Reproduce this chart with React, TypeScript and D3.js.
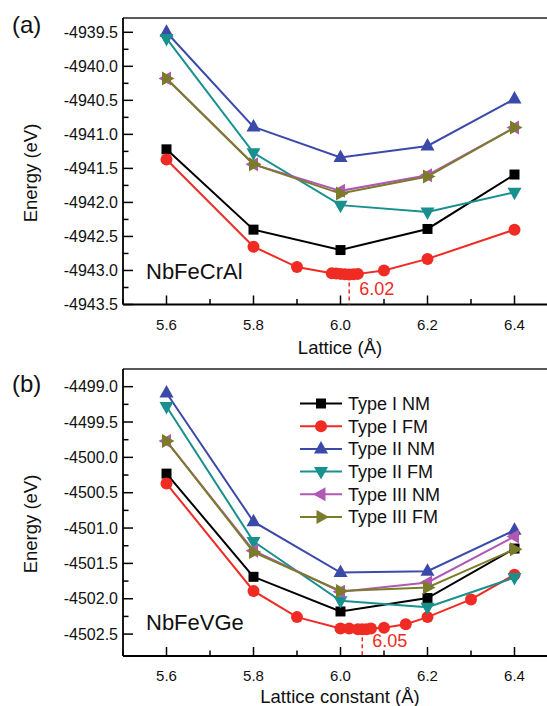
import React from 'react';
import * as d3 from 'd3';

// ---------- data ----------
const lattice = [5.6, 5.8, 6.0, 6.2, 6.4];

// Panel (a) NbFeCrAl
const aTypeINM = [-4941.22, -4942.4, -4942.7, -4942.39, -4941.59];
const aTypeIFMx = [5.6, 5.8, 5.9, 5.98, 5.99, 6.0, 6.01, 6.02, 6.03, 6.04, 6.1, 6.2, 6.4];
const aTypeIFM = [-4941.37, -4942.65, -4942.95, -4943.04, -4943.045, -4943.05, -4943.055, -4943.06, -4943.055, -4943.05, -4943.0, -4942.83, -4942.4];
const aTypeIINM = [-4939.5, -4940.89, -4941.34, -4941.17, -4940.48];
const aTypeIIFM = [-4939.59, -4941.27, -4942.04, -4942.14, -4941.85];
const aTypeIIINM = [-4940.18, -4941.44, -4941.83, -4941.6, -4940.9];
const aTypeIIIFM = [-4940.18, -4941.44, -4941.87, -4941.62, -4940.9];
const aOptimum = 6.02;

// Panel (b) NbFeVGe
const bTypeINM = [-4500.23, -4501.69, -4502.18, -4501.99, -4501.29];
const bTypeIFMx = [5.6, 5.8, 5.9, 6.0, 6.02, 6.04, 6.05, 6.06, 6.07, 6.1, 6.15, 6.2, 6.3, 6.4];
const bTypeIFM = [-4500.37, -4501.89, -4502.26, -4502.42, -4502.42, -4502.43, -4502.43, -4502.43, -4502.42, -4502.41, -4502.36, -4502.26, -4502.01, -4501.66];
const bTypeIINM = [-4499.09, -4500.91, -4501.63, -4501.61, -4501.03];
const bTypeIIFM = [-4499.28, -4501.19, -4502.03, -4502.12, -4501.7];
const bTypeIIINM = [-4499.77, -4501.32, -4501.9, -4501.77, -4501.12];
const bTypeIIIFM = [-4499.77, -4501.34, -4501.89, -4501.84, -4501.3];
const bOptimum = 6.05;

const seriesNames = ['Type I NM', 'Type I FM', 'Type II NM', 'Type II FM', 'Type III NM', 'Type III FM'];
const seriesColors = ['#000000', '#ef2b24', '#3b4aa9', '#17908e', '#b058b2', '#7b7c2a'];
const seriesMarkers = ['square', 'circle', 'up', 'down', 'left', 'right'];

const xMajorTicks = [5.6, 5.8, 6.0, 6.2, 6.4];
const xMinorTicks = [5.5, 5.7, 5.9, 6.1, 6.3, 6.5];
const aYTicks = [-4943.5, -4943.0, -4942.5, -4942.0, -4941.5, -4941.0, -4940.5, -4940.0, -4939.5];
const bYTicks = [-4502.5, -4502.0, -4501.5, -4501.0, -4500.5, -4500.0, -4499.5, -4499.0];

const FONT = '"Liberation Sans", Arial, Helvetica, sans-serif';

function Marker({ kind, x, y, color }: { kind: string; x: number; y: number; color: string }) {
  if (kind === 'circle') return <circle cx={x} cy={y} r={6} fill={color} />;
  let pts: number[][] = [];
  if (kind === 'square') pts = [[-5, -5], [5, -5], [5, 5], [-5, 5]];
  if (kind === 'up') pts = [[0, -8], [7, 4.5], [-7, 4.5]];
  if (kind === 'down') pts = [[0, 8], [7, -4.5], [-7, -4.5]];
  if (kind === 'left') pts = [[-8, 0], [4.5, -7], [4.5, 7]];
  if (kind === 'right') pts = [[8, 0], [-4.5, -7], [-4.5, 7]];
  return <polygon points={pts.map((p) => `${x + p[0]},${y + p[1]}`).join(' ')} fill={color} />;
}

type Series = { xs: number[]; ys: number[] };

function Panel(props: {
  top: number; bottom: number; yDomain: [number, number]; yTicks: number[];
  series: Series[]; tag: string; tagY: number; compound: string; compoundY: number;
  optimum: number; optLabelY: number; xTitle: string; xTitleY: number; yTitleCY: number;
  legend?: boolean;
}) {
  const left = 123;
  const x = d3.scaleLinear().domain([5.5, 6.5]).range([left, left + 435]);
  const y = d3.scaleLinear().domain(props.yDomain).range([props.bottom, props.top]);
  const line = d3.line<[number, number]>().x((d) => x(d[0])).y((d) => y(d[1]));
  const yMinor = props.yTicks.slice(0, -1).map((v) => v + 0.25);
  const red = props.series[1];
  const minE = d3.min(red.ys) as number;
  return (
    <g>
      {/* frame */}
      <line x1={left} x2={x(6.5)} y1={props.top} y2={props.top} stroke="#222" strokeWidth={1.6} />
      <line x1={left} x2={left} y1={props.top} y2={props.bottom} stroke="#000" strokeWidth={1.8} />
      <line x1={left} x2={x(6.5)} y1={props.bottom} y2={props.bottom} stroke="#000" strokeWidth={1.8} />
      {props.yTicks.map((v) => (
        <g key={'yt' + v}>
          <line x1={left} x2={left + 10} y1={y(v)} y2={y(v)} stroke="#000" strokeWidth={1.5} />
          <text x={left - 5} y={y(v) + 5.5} textAnchor="end" fontSize={16} fontFamily={FONT} fill="#111">
            {v.toFixed(1)}
          </text>
        </g>
      ))}
      {yMinor.map((v) => (
        <line key={'ym' + v} x1={left} x2={left + 5.5} y1={y(v)} y2={y(v)} stroke="#000" strokeWidth={1.5} />
      ))}
      {xMajorTicks.map((v) => (
        <g key={'xt' + v}>
          <line x1={x(v)} x2={x(v)} y1={props.bottom} y2={props.bottom - 9} stroke="#000" strokeWidth={1.5} />
          <text x={x(v)} y={props.bottom + 25} textAnchor="middle" fontSize={15} fontFamily={FONT} fill="#111">
            {v.toFixed(1)}
          </text>
        </g>
      ))}
      {xMinorTicks.map((v) => (
        <line key={'xm' + v} x1={x(v)} x2={x(v)} y1={props.bottom} y2={props.bottom - 5.5} stroke="#000" strokeWidth={1.5} />
      ))}
      {/* titles */}
      <text x={left + 217} y={props.xTitleY} textAnchor="middle" fontSize={18.5} fontFamily={FONT} fill="#111">
        {props.xTitle}
      </text>
      <text transform={`translate(36.5,${props.yTitleCY}) rotate(-90)`} textAnchor="middle" fontSize={18.5} fontFamily={FONT} fill="#111">
        Energy (eV)
      </text>
      <text x={12} y={props.tagY} fontSize={24} fontFamily={FONT} fill="#111">{props.tag}</text>
      <text x={146} y={props.compoundY} fontSize={22} fontFamily={FONT} fill="#111">{props.compound}</text>
      {/* optimum marker */}
      <line x1={x(props.optimum)} x2={x(props.optimum)} y1={y(minE) + 8} y2={props.bottom} stroke="#ef2b24" strokeWidth={1.5} strokeDasharray="4,3" />
      <text x={x(props.optimum) + 10} y={props.optLabelY} fontSize={18} fontFamily={FONT} fill="#ef2b24">
        {props.optimum.toFixed(2)}
      </text>
      {/* series */}
      {props.series.map((s, i) => {
        const pts = s.xs.map((xv, j) => [xv, s.ys[j]] as [number, number]);
        return (
          <g key={'s' + i}>
            <path d={line(pts) || ''} fill="none" stroke={seriesColors[i]} strokeWidth={2} />
            {pts.map((p, j) => (
              <Marker key={j} kind={seriesMarkers[i]} x={x(p[0])} y={y(p[1])} color={seriesColors[i]} />
            ))}
          </g>
        );
      })}
      {props.legend &&
        seriesNames.map((n, i) => {
          const cy = 403.5 + i * 22.7;
          return (
            <g key={'l' + i}>
              <line x1={300} x2={342} y1={cy} y2={cy} stroke={seriesColors[i]} strokeWidth={2} />
              <Marker kind={seriesMarkers[i]} x={321} y={cy} color={seriesColors[i]} />
              <text x={348} y={cy + 6.4} fontSize={18} fontFamily={FONT} fill="#111">{n}</text>
            </g>
          );
        })}
    </g>
  );
}

export default function App() {
  const aSeries: Series[] = [
    { xs: lattice, ys: aTypeINM },
    { xs: aTypeIFMx, ys: aTypeIFM },
    { xs: lattice, ys: aTypeIINM },
    { xs: lattice, ys: aTypeIIFM },
    { xs: lattice, ys: aTypeIIINM },
    { xs: lattice, ys: aTypeIIIFM },
  ];
  const bSeries: Series[] = [
    { xs: lattice, ys: bTypeINM },
    { xs: bTypeIFMx, ys: bTypeIFM },
    { xs: lattice, ys: bTypeIINM },
    { xs: lattice, ys: bTypeIIFM },
    { xs: lattice, ys: bTypeIIINM },
    { xs: lattice, ys: bTypeIIIFM },
  ];
  return (
    <svg width={547} height={706} style={{ position: 'absolute', left: 0, top: 0, background: '#fff' }}>
      <rect width={547} height={706} fill="#fff" />
      <Panel top={18} bottom={304.5} yDomain={[-4943.5, -4939.29]} yTicks={aYTicks} series={aSeries}
        tag="(a)" tagY={33} compound="NbFeCrAl" compoundY={278.5} optimum={aOptimum} optLabelY={295}
        xTitle="Lattice (Å)" xTitleY={354} yTitleCY={173} />
      <Panel top={369} bottom={656} yDomain={[-4502.81, -4498.75]} yTicks={bYTicks} series={bSeries}
        tag="(b)" tagY={392} compound="NbFeVGe" compoundY={629.5} optimum={bOptimum} optLabelY={646.5}
        xTitle="Lattice constant (Å)" xTitleY={703} yTitleCY={524} legend />
    </svg>
  );
}
